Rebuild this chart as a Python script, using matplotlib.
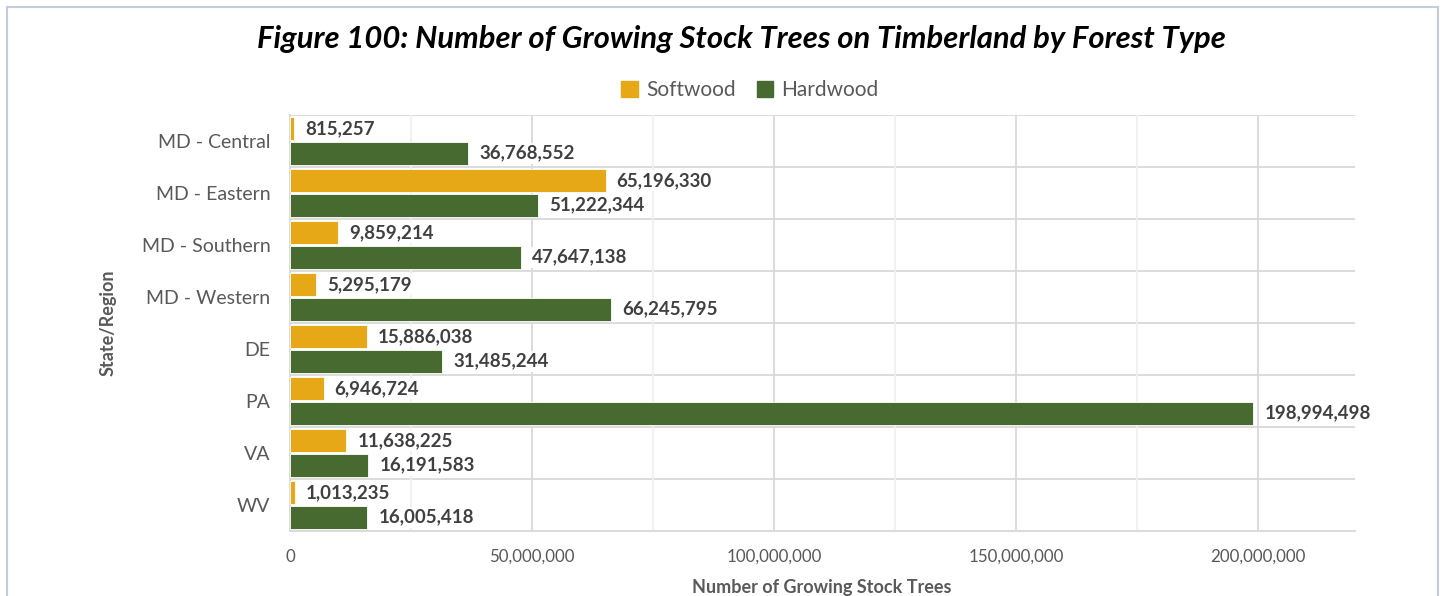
import matplotlib
matplotlib.use("Agg")
import matplotlib.pyplot as plt
from matplotlib.patches import Rectangle
from matplotlib.ticker import MultipleLocator, FuncFormatter
import numpy as np

plt.rcParams['font.family'] = ['Lato', 'DejaVu Sans']

regions = ["MD - Central", "MD - Eastern", "MD - Southern", "MD - Western",
           "DE", "PA", "VA", "WV"]
softwood = [815257, 65196330, 9859214, 5295179, 15886038, 6946724, 11638225, 1013235]
hardwood = [36768552, 51222344, 47647138, 66245795, 31485244, 198994498, 16191583, 16005418]

GOLD = "#E6A817"
GREEN = "#476A30"
GRID_MAJOR = "#D9D9D9"
GRID_MINOR = "#F0F0F0"
TEXT = "#595959"
LABEL = "#404040"

fig = plt.figure(figsize=(14.43, 5.96), dpi=100)
ax = fig.add_axes([290 / 1443, 1 - 531 / 596, (1355 - 290) / 1443, (531 - 115) / 596])

y = np.arange(len(regions))
h = 0.44
off = 0.235
ax.barh(y - off, softwood, height=h, color=GOLD, edgecolor="white", linewidth=0.6, zorder=3)
ax.barh(y + off, hardwood, height=h, color=GREEN, edgecolor="white", linewidth=0.6, zorder=3)

box = dict(facecolor="white", edgecolor="none", pad=1.5)
for yi, v in zip(y - off, softwood):
    ax.annotate(f"{v:,}", (v, yi), xytext=(8, 0), textcoords="offset points",
                ha="left", va="center", fontsize=13.5, fontweight="bold",
                color=LABEL, bbox=box, zorder=4)
for yi, v in zip(y + off, hardwood):
    ax.annotate(f"{v:,}", (v, yi), xytext=(8, 0), textcoords="offset points",
                ha="left", va="center", fontsize=13.5, fontweight="bold",
                color=LABEL, bbox=box, zorder=4)

ax.set_xlim(0, 220_000_000)
ax.set_ylim(len(regions) - 0.5, -0.5)
ax.xaxis.set_major_locator(MultipleLocator(50_000_000))
ax.xaxis.set_minor_locator(MultipleLocator(25_000_000))
ax.xaxis.set_major_formatter(FuncFormatter(lambda v, p: f"{int(v):,}"))
ax.grid(axis="x", which="major", color=GRID_MAJOR, linewidth=1.3, zorder=0)
ax.grid(axis="x", which="minor", color=GRID_MINOR, linewidth=1.3, zorder=0)

# category separators
for b in np.arange(-0.5, len(regions) + 0.5, 1.0):
    ax.axhline(b, color=GRID_MAJOR, linewidth=1.3, zorder=1)

ax.set_yticks(y)
ax.set_yticklabels(regions)
ax.tick_params(axis="y", length=0, pad=14, labelsize=14, labelcolor=TEXT)
ax.tick_params(axis="x", which="both", length=0, pad=13, labelsize=12.2, labelcolor=TEXT)
for s in ("top", "right"):
    ax.spines[s].set_visible(False)
ax.spines["left"].set_color(GRID_MAJOR)
ax.spines["left"].set_linewidth(1.3)
ax.spines["bottom"].set_color(GRID_MAJOR)
ax.spines["bottom"].set_linewidth(1.3)

fig.text(108 / 1443, 1 - 323 / 596, "State/Region", rotation=90, ha="center", va="center",
         fontsize=13, fontweight="bold", color=TEXT)
fig.text(822 / 1443, 1 - 587 / 596, "Number of Growing Stock Trees", ha="center", va="center",
         fontsize=13, fontweight="bold", color=TEXT)

fig.text(741 / 1443, 1 - 39 / 596,
         "Figure 100: Number of Growing Stock Trees on Timberland by Forest Type",
         ha="center", va="center", fontsize=22.3, fontweight="bold", fontstyle="italic",
         color="black")

handles = [Rectangle((0, 0), 1, 1, color=GOLD), Rectangle((0, 0), 1, 1, color=GREEN)]
fig.legend(handles, ["Softwood", "Hardwood"], loc="center", bbox_to_anchor=(750 / 1443, 1 - 90 / 596),
           ncol=2, frameon=False, fontsize=15, labelcolor=TEXT, handlelength=0.8,
           handleheight=0.8, handletextpad=0.4, columnspacing=1.0)

fig.patches.append(Rectangle((7 / 1443, -0.05), (1438 - 7) / 1443, 1 - 7 / 596 + 0.05,
                             transform=fig.transFigure, fill=False, edgecolor="#C3CDD9",
                             linewidth=1.5, clip_on=False))

fig.savefig("out.png", dpi=100, facecolor="white")
